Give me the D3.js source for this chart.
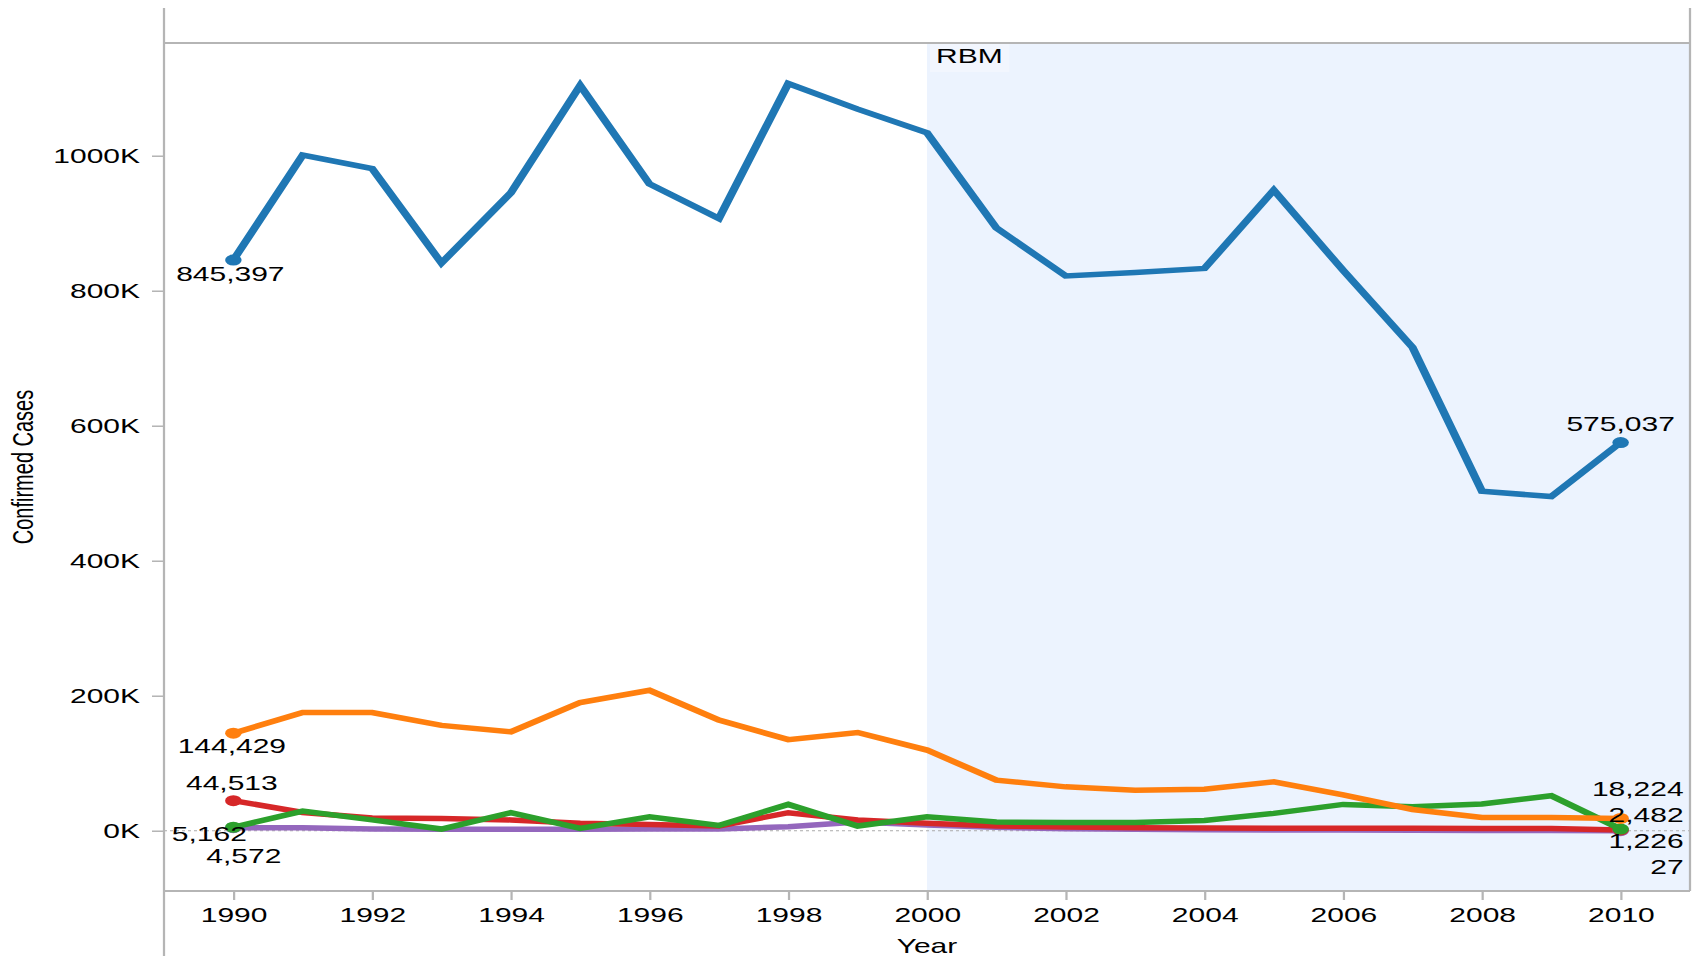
<!DOCTYPE html>
<html>
<head>
<meta charset="utf-8">
<script src="https://cdn.jsdelivr.net/npm/d3@7"></script>
<style>
  body { margin: 0; background: #fff; }
  text { font-family: "Liberation Sans", Arial, Helvetica, sans-serif; fill: #000; }
</style>
</head>
<body>
<div id="chart"></div>
<script>
// data
const years = [1990, 1991, 1992, 1993, 1994, 1995, 1996, 1997, 1998, 1999, 2000,
               2001, 2002, 2003, 2004, 2005, 2006, 2007, 2008, 2009, 2010];

const casesBlue   = [845397, 1001000, 981000, 841000, 945000, 1104000, 958000, 907000, 1107000, 1069000, 1034000,
                     893000, 822000, 827000, 833000, 949000, 830000, 716000, 503000, 495000, 575037];
const casesOrange = [144429, 175000, 175000, 156000, 146500, 190000, 208000, 164000, 135000, 145500, 119500,
                     75000, 65000, 60000, 61500, 72500, 53000, 31500, 19500, 19500, 18224];
const casesRed    = [44513, 27000, 19000, 18000, 16000, 11000, 9400, 7000, 26700, 16000, 11000,
                     7000, 5400, 4400, 4000, 3800, 3600, 3500, 3400, 3300, 1226];
const casesGreen  = [5162, 29000, 16000, 2500, 26700, 3500, 20700, 7900, 39000, 6900, 20700,
                     12800, 12300, 12300, 15300, 25700, 39000, 35500, 39500, 51800, 2482];
const casesPurple = [4572, 4400, 2500, 2000, 2000, 2000, 2500, 2500, 6000, 12800, 8400,
                     5000, 3000, 2000, 1500, 1200, 1000, 800, 500, 300, 27];

const yTicks = [0, 200000, 400000, 600000, 800000, 1000000];
const xTicks = [1990, 1992, 1994, 1996, 1998, 2000, 2002, 2004, 2006, 2008, 2010];
const rbmStart = 2000;

// drawing order: purple under, blue on top
// first / last: label offsets (squeezed x, y) from the end point
const series = [
  {values: casesPurple, color: "#9467bd", first: [7, 35],   last: [42, 43]},
  {values: casesRed,    color: "#d62728", first: [-1, -11], last: [42, 18]},
  {values: casesGreen,  color: "#2ca02c", first: [-16, 14], last: [42, -7]},
  {values: casesOrange, color: "#ff7f0e", first: [-1, 20],  last: [42, -22]},
  {values: casesBlue,   color: "#1f77b4", first: [-2, 21],  last: [0, -12], lastMid: true}
];

// the picture is stretched sideways, so draw in a squeezed space and scale x back up
const SX = 1.5;
const svgWidth = 1694, svgHeight = 956;
const plot = {left: 164, right: 1690, top: 43, bottom: 891};

const svg = d3.select("#chart").append("svg")
  .attr("width", svgWidth)
  .attr("height", svgHeight);

const g = svg.append("g").attr("transform", `scale(${SX},1)`);

const x = d3.scaleLinear().domain([1989, 2011]).range([plot.left / SX, plot.right / SX]);
const y = d3.scaleLinear().domain([-89300, 1167000]).range([plot.bottom, plot.top]);

const L = plot.left / SX, R = plot.right / SX;

// RBM band
g.append("rect")
  .attr("x", x(rbmStart))
  .attr("y", plot.top)
  .attr("width", R - x(rbmStart))
  .attr("height", plot.bottom - plot.top)
  .attr("fill", "#ecf3fe");

g.append("rect")
  .attr("x", x(rbmStart) + 2)
  .attr("y", plot.top)
  .attr("width", 53)
  .attr("height", 29)
  .attr("fill", "#fff")
  .attr("opacity", 0.3);

g.append("text")
  .attr("x", x(rbmStart) + 6)
  .attr("y", plot.top + 20)
  .attr("font-size", "20px")
  .text("RBM");

// zero rule
g.append("line")
  .attr("x1", L).attr("x2", R)
  .attr("y1", y(0)).attr("y2", y(0))
  .attr("stroke", "#aaa")
  .attr("stroke-width", 1)
  .attr("stroke-dasharray", "2,2");

// frame
const frame = "#b5b5b5";
g.append("line").attr("x1", L).attr("x2", R).attr("y1", plot.top).attr("y2", plot.top)
  .attr("stroke", frame).attr("stroke-width", 2);
g.append("line").attr("x1", L).attr("x2", R).attr("y1", plot.bottom).attr("y2", plot.bottom)
  .attr("stroke", frame).attr("stroke-width", 2);
g.append("line").attr("x1", L).attr("x2", L).attr("y1", 8).attr("y2", svgHeight)
  .attr("stroke", frame).attr("stroke-width", 1.5);
g.append("line").attr("x1", R).attr("x2", R).attr("y1", 8).attr("y2", plot.bottom)
  .attr("stroke", frame).attr("stroke-width", 1.5);

// axes
const yAxis = d3.axisLeft(y)
  .tickValues(yTicks)
  .tickSize(8)
  .tickPadding(8)
  .tickFormat(d => (d / 1000) + "K");

const xAxis = d3.axisBottom(x)
  .tickValues(xTicks)
  .tickSize(9)
  .tickPadding(8)
  .tickFormat(d3.format("d"));

const yG = g.append("g").attr("transform", `translate(${L},0)`).call(yAxis);
const xG = g.append("g").attr("transform", `translate(0,${plot.bottom})`).call(xAxis);

[yG, xG].forEach(a => {
  a.select(".domain").remove();
  a.selectAll(".tick line").attr("stroke", frame).attr("stroke-width", 1.5);
  a.selectAll(".tick text").attr("font-size", "20px").attr("fill", "#000")
    .attr("font-family", '"Liberation Sans", Arial, sans-serif');
});

// axis titles
g.append("text")
  .attr("transform", `translate(22,${(plot.top + plot.bottom) / 2}) rotate(-90)`)
  .attr("text-anchor", "middle")
  .attr("font-size", "20px")
  .text("Confirmed Cases");

g.append("text")
  .attr("x", (L + R) / 2)
  .attr("y", 953)
  .attr("text-anchor", "middle")
  .attr("font-size", "20px")
  .text("Year");

// lines
const line = d3.line()
  .x((d, i) => x(years[i]))
  .y(d => y(d));

series.forEach(s => {
  g.append("path")
    .datum(s.values)
    .attr("fill", "none")
    .attr("stroke", s.color)
    .attr("stroke-width", 5.5)
    .attr("d", line);
});

// end points and their labels
const fmt = d3.format(",");
const n = years.length - 1;
series.forEach(s => {
  [0, n].forEach(i => {
    g.append("circle")
      .attr("cx", x(years[i]))
      .attr("cy", y(s.values[i]))
      .attr("r", 5.5)
      .attr("fill", s.color);
  });
});

series.forEach(s => {
  g.append("text")
    .attr("x", x(years[0]) + s.first[0])
    .attr("y", y(s.values[0]) + s.first[1])
    .attr("text-anchor", "middle")
    .attr("font-size", "20px")
    .text(fmt(s.values[0]));

  g.append("text")
    .attr("x", x(years[n]) + s.last[0])
    .attr("y", y(s.values[n]) + s.last[1])
    .attr("text-anchor", s.lastMid ? "middle" : "end")
    .attr("font-size", "20px")
    .text(fmt(s.values[n]));
});
</script>
</body>
</html>
